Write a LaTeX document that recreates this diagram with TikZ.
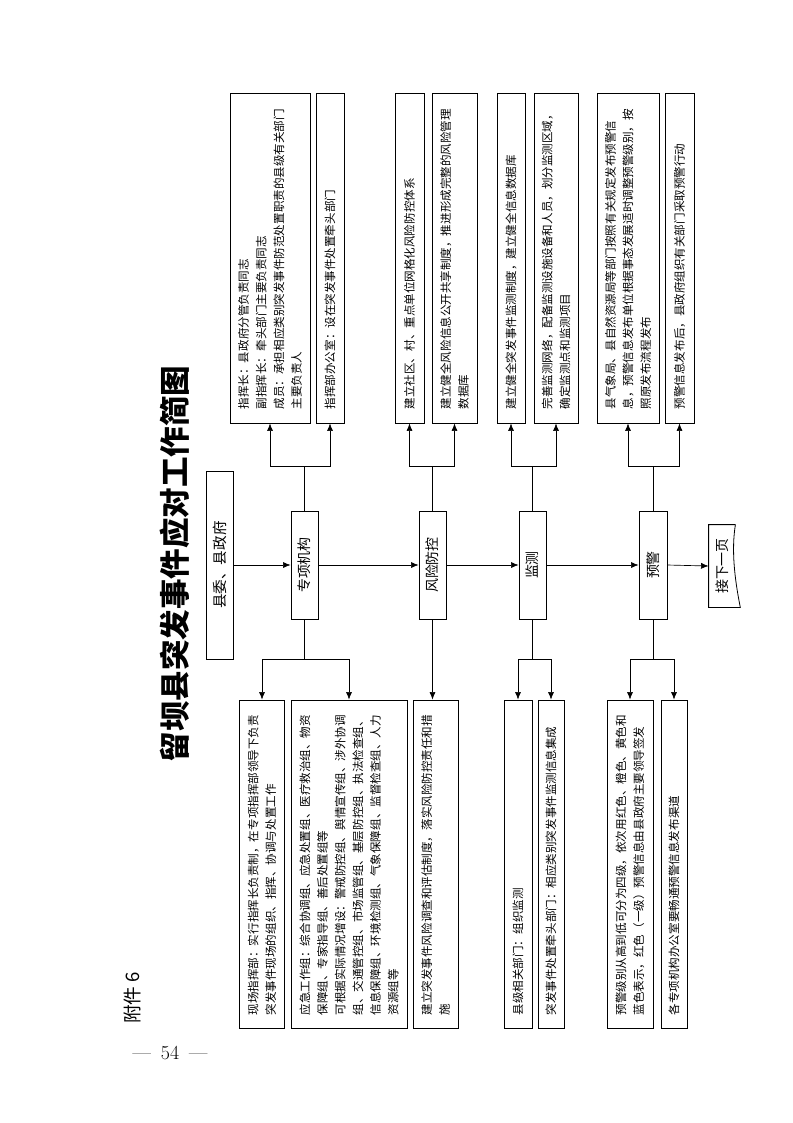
\documentclass[tikz,border=0pt]{standalone}
\usepackage{fontspec}
\usepackage{graphicx}
\newfontfamily\cjk{Noto Sans CJK SC}
\usetikzlibrary{arrows.meta}
\def\px{0.2648mm}
\newcommand{\vtext}[1]{\rotatebox{90}{\parbox{26.2em}{\raggedright #1}}}
\newcommand{\vword}[1]{\rotatebox{90}{#1}}
\tikzset{
	infobox/.style={draw, line width=0.6pt, inner sep=0pt, font=\cjk\fontsize{8.7pt}{13.3pt}\selectfont},
	topbox/.style={infobox, minimum height=330*\px},
	lowbox/.style={infobox, minimum height=328*\px},
	stepnode/.style={draw, line width=0.6pt, inner sep=0pt, font=\cjk\fontsize{10.5pt}{12pt}\selectfont, minimum width=27*\px, minimum height=108*\px},
	arr/.style={line width=0.5pt, -{Latex[length=2mm,width=1.6mm]}},
	link/.style={line width=0.5pt}
}

\begin{document}
\begin{tikzpicture}[x=0.2648mm, y=-0.2648mm]
			%%%%% START %%%%%
			\useasboundingbox (0,0) rectangle (793,1123);
			\fill[white] (0,0) rectangle (793,1123);
			
			\node[rotate=90, font=\cjk\bfseries\fontsize{23pt}{23pt}\selectfont] (title) at (175,564) {留坝县突发事件应对工作简图};
			\node[rotate=90, font=\cjk\fontsize{14pt}{14pt}\selectfont] (fujian) at (132.5,998) {附件 6};
			\node[font=\fontsize{15pt}{15pt}\selectfont] (page) at (170,1053) {—\enspace 54\enspace —};
			
			% main flow
			\node[stepnode, font=\cjk\fontsize{11pt}{12pt}\selectfont, minimum height=188*\px] (xw) at (219.5,565) {\vword{县委、县政府}};
			\node[stepnode] (zx) at (304.5,565) {\vword{专项机构}};
			\node[stepnode] (fx) at (432.5,565) {\vword{风险防控}};
			\node[stepnode] (jc) at (532.5,565) {\vword{监测}};
			\node[stepnode, minimum width=28*\px] (yj) at (653,565) {\vword{预警}};
			\node[stepnode, draw=none, minimum width=26*\px, minimum height=82*\px] (next) at (722,566) {\vword{接下一页}};
			\draw[line width=0.6pt] (next.north east) -- (next.north west) -- (next.south west) -- ([xshift=1.3mm]next.south east) .. controls +(-6,-30) and +(-4,25) .. (next.north east);
			
			\draw[arr] (xw.east) -- (zx.west);
			\draw[arr] (zx.east) -- (fx.west);
			\draw[arr] (fx.east) -- (jc.west);
			\draw[arr] (jc.east) -- (yj.west);
			\draw[arr] (yj.east) -- (next.west);
			
			% upper boxes
			\node[topbox, minimum width=80*\px] (zhb) at (270,258) {\vtext{指挥长：县政府分管负责同志\\副指挥长：牵头部门主要负责同志\\成员：承担相应类别突发事件防范处置职责的县级有关部门\\主要负责人}};
			\node[topbox, minimum width=28*\px] (bgs) at (330,258) {\vtext{指挥部办公室：设在突发事件处置牵头部门}};
			\node[topbox, minimum width=29*\px] (wgh) at (409.5,258) {\vtext{建立社区、村、重点单位网格化风险防控体系}};
			\node[topbox, minimum width=45*\px] (fxk) at (454.5,258) {\vtext{建立健全风险信息公开共享制度，推进形成完整的风险管理\\数据库}};
			\node[topbox, minimum width=28*\px] (jczd) at (511,258) {\vtext{建立健全突发事件监测制度，建立健全信息数据库}};
			\node[topbox, minimum width=44*\px] (jcwl) at (556,258) {\vtext{完善监测网络，配备监测设施设备和人员，划分监测区域，\\确定监测点和监测项目}};
			\node[topbox, minimum width=62*\px] (fbdw) at (628,258) {\vtext{县气象局、县自然资源局等部门按照有关规定发布预警信\\息，预警信息发布单位根据事态发展适时调整预警级别，按\\照原发布流程发布}};
			\node[topbox, minimum width=29*\px] (yjxd) at (679.5,258) {\vtext{预警信息发布后，县政府组织有关部门采取预警行动}};
			
			\coordinate (zxup) at (304.5,466);
			\draw[link] (zx.north) -- (zxup);
			\draw[arr] (zxup) -| (zhb.south);
			\draw[arr] (zxup) -| (bgs.south);
			
			\coordinate (fxup) at (432.5,466);
			\draw[link] (fx.north) -- (fxup);
			\draw[arr] (fxup) -| (wgh.south);
			\draw[arr] (fxup) -| (fxk.south);
			
			\coordinate (jcup) at (532.5,466);
			\draw[link] (jc.north) -- (jcup);
			\draw[arr] (jcup) -| (jczd.south);
			\draw[arr] (jcup) -| (jcwl.south);
			
			\coordinate (yjup) at (653,466);
			\draw[link] (yj.north) -- (yjup);
			\draw[arr] (yjup) -| (fbdw.south);
			\draw[arr] (yjup) -| (yjxd.south);
			
			% lower boxes
			\node[lowbox, minimum width=45*\px] (xc) at (262,864) {\vtext{现场指挥部：实行指挥长负责制，在专项指挥部领导下负责\\突发事件现场的组织、指挥、协调与处置工作}};
			\node[lowbox, minimum width=116*\px] (gzz) at (349,864) {\vtext{应急工作组：综合协调组、应急处置组、医疗救治组、物资\\保障组、专家指导组、善后处置组等\\可根据实际情况增设：警戒防控组、舆情宣传组、涉外协调\\组、交通管控组、市场监管组、基层防控组、执法检查组、\\信息保障组、环境检测组、气象保障组、监督检查组、人力\\资源组等}};
			\node[lowbox, minimum width=45*\px] (dc) at (435.5,864) {\vtext{建立突发事件风险调查和评估制度，落实风险防控责任和措\\施}};
			\node[lowbox, minimum width=28*\px] (xj) at (518,864) {\vtext{县级相关部门：组织监测}};
			\node[lowbox, minimum width=26*\px] (qt) at (551,864) {\vtext{突发事件处置牵头部门：相应类别突发事件监测信息集成}};
			\node[lowbox, minimum width=46*\px] (jb) at (630,864) {\vtext{预警级别从高到低可分为四级，依次用红色、橙色、黄色和\\蓝色表示，红色（一级）预警信息由县政府主要领导签发}};
			\node[lowbox, minimum width=26*\px] (qd) at (674,864) {\vtext{各专项机构办公室要畅通预警信息发布渠道}};
			
			\coordinate (zxdn) at (304.5,659);
			\draw[link] (zx.south) -- (zxdn);
			\draw[arr] (zxdn) -| (xc.north);
			\draw[arr] (zxdn) -| (gzz.north);
			
			\draw[arr] (fx.south) -- (fx.south |- dc.north);
			
			\coordinate (jcdn) at (532.5,659);
			\draw[link] (jc.south) -- (jcdn);
			\draw[arr] (jcdn) -| (xj.north);
			\draw[arr] (jcdn) -| (qt.north);
			
			\coordinate (yjdn) at (653,659);
			\draw[link] (yj.south) -- (yjdn);
			\draw[arr] (yjdn) -| (jb.north);
			\draw[arr] (yjdn) -| (qd.north);
			
			%%%%% END %%%%%
\end{tikzpicture}
\end{document}
